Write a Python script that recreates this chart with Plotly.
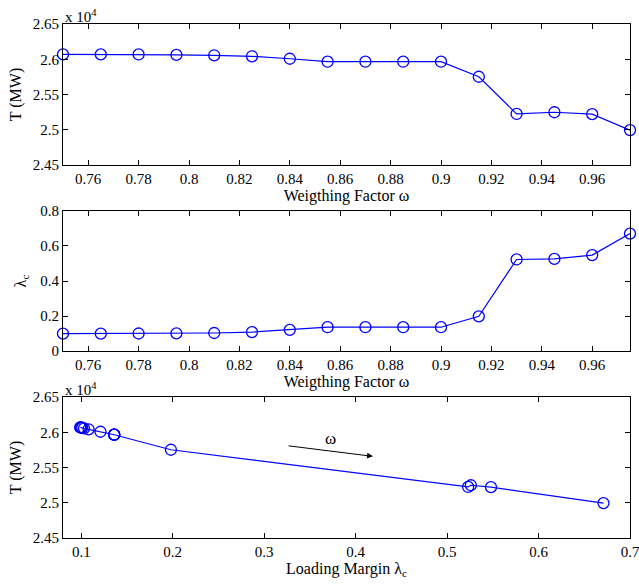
import plotly.graph_objects as go
from plotly.subplots import make_subplots

# Weighting factor sweep and results
omega = [0.75, 0.765, 0.78, 0.795, 0.81, 0.825, 0.84, 0.855, 0.87, 0.885,
         0.90, 0.915, 0.93, 0.945, 0.96, 0.975]
# Total generation T, in units of 1e4 MW
T = [2.6069, 2.6069, 2.6068, 2.6062, 2.6056, 2.6042, 2.6007, 2.5965, 2.5965,
     2.5965, 2.5965, 2.5752, 2.5224, 2.5248, 2.5221, 2.4995]
# Loading margin lambda_c
lam = [0.099, 0.099, 0.100, 0.101, 0.103, 0.108, 0.121, 0.136, 0.136, 0.136,
       0.136, 0.198, 0.523, 0.526, 0.548, 0.671]

FONT = "Liberation Serif"
BLUE = "#0000ff"

fig = make_subplots(rows=3, cols=1, vertical_spacing=0.0)

line = dict(color=BLUE, width=1.2)
marker = dict(symbol="circle-open", size=11, color=BLUE, line=dict(width=1.3, color=BLUE))

fig.add_trace(go.Scatter(x=omega, y=T, mode="lines+markers", line=line, marker=marker,
                         showlegend=False, cliponaxis=False), row=1, col=1)
fig.add_trace(go.Scatter(x=omega, y=lam, mode="lines+markers", line=line, marker=marker,
                         showlegend=False, cliponaxis=False), row=2, col=1)
fig.add_trace(go.Scatter(x=lam, y=T, mode="lines+markers", line=line, marker=marker,
                         showlegend=False, cliponaxis=False), row=3, col=1)

axis_common = dict(showline=True, linecolor="black", linewidth=1.2, mirror="ticks",
                   ticks="inside", ticklen=5, tickcolor="black", tickwidth=1,
                   showgrid=False, zeroline=False, automargin=False,
                   ticklabeloverflow="allow",
                   tickfont=dict(family=FONT, size=15, color="black"),
                   title_font=dict(family=FONT, size=16, color="black"))

# y domains of the three panels (paper coords)
doms = [(0.7257, 1.0), (0.3638, 0.6362), (0.0, 0.2743)]

fig.update_layout(
    template="simple_white",
    xaxis=dict(axis_common, domain=[0, 1], range=[0.75, 0.975], tick0=0.76, dtick=0.02,
               title=dict(text="Weigthing Factor ω", standoff=1)),
    yaxis=dict(axis_common, domain=list(doms[0]), range=[2.45, 2.65], dtick=0.05,
               title=dict(text="T (MW)", standoff=7)),
    xaxis2=dict(axis_common, domain=[0, 1], range=[0.75, 0.975], tick0=0.76, dtick=0.02,
                title=dict(text="Weigthing Factor ω", standoff=1)),
    yaxis2=dict(axis_common, domain=list(doms[1]), range=[0, 0.8], dtick=0.2,
                title=dict(text="λ<sub>c</sub>", standoff=9)),
    xaxis3=dict(axis_common, domain=[0, 1], range=[0.08, 0.7], tick0=0.1, dtick=0.1,
                title=dict(text="Loading Margin λ<sub>c</sub>", standoff=1)),
    yaxis3=dict(axis_common, domain=list(doms[2]), range=[2.45, 2.65], dtick=0.05,
                title=dict(text="T (MW)", standoff=7)),
    width=639, height=585,
    margin=dict(l=63, r=9, t=24, b=47, autoexpand=False),
    plot_bgcolor="white", paper_bgcolor="white",
    font=dict(family=FONT, size=15, color="black"),
)

# exponent labels for the T axes
for dom in (doms[0], doms[2]):
    fig.add_annotation(text="x 10<sup>4</sup>", xref="paper", yref="paper",
                       x=0.0, y=dom[1], xanchor="left", yanchor="bottom",
                       showarrow=False, font=dict(family=FONT, size=15, color="black"),
                       yshift=-3)

# direction of increasing omega along the trade-off curve
fig.add_annotation(x=0.419, y=2.5658, ax=0.325, ay=2.581, xref="x3", yref="y3",
                   axref="x3", ayref="y3", text="", showarrow=True,
                   arrowhead=2, arrowsize=1.2, arrowwidth=1, arrowcolor="black")
fig.add_annotation(x=0.373, y=2.591, xref="x3", yref="y3", text="ω", showarrow=False,
                   font=dict(family=FONT, size=17, color="black"))

fig.write_html("out.html")
